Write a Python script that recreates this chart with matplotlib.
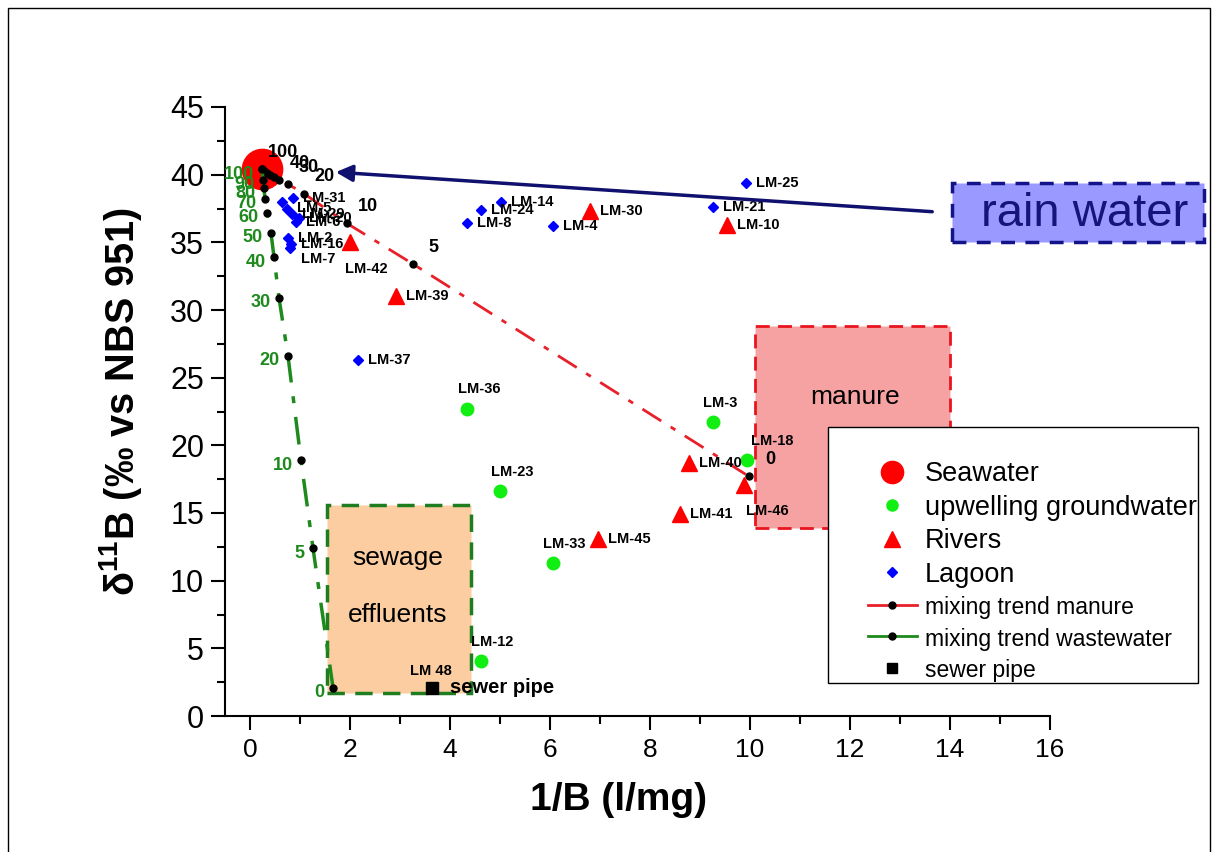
import matplotlib.pyplot as plt
from matplotlib.lines import Line2D
from matplotlib.patches import Rectangle

plt.rcParams['font.family'] = ['Liberation Sans', 'DejaVu Sans']
plt.rcParams['mathtext.fontset'] = 'custom'
plt.rcParams['mathtext.rm'] = 'Liberation Sans'
plt.rcParams['mathtext.bf'] = 'Liberation Sans:bold'
plt.rcParams['mathtext.it'] = 'Liberation Sans:italic'

# seawater end member
sea_x = [0.24]
sea_y = [40.4]

# upwelling groundwater
gw_names = ['LM-36', 'LM-3', 'LM-18', 'LM-23', 'LM-33', 'LM-12']
gw_x = [4.34, 9.26, 9.94, 5.00, 6.06, 4.62]
gw_y = [22.7, 21.7, 18.9, 16.6, 11.3, 4.1]

# rivers
riv_names = ['LM-42', 'LM-39', 'LM-30', 'LM-10', 'LM-40', 'LM-46', 'LM-41', 'LM-45']
riv_x = [2.00, 2.92, 6.80, 9.54, 8.78, 9.88, 8.60, 6.96]
riv_y = [35.0, 31.0, 37.3, 36.3, 18.7, 17.1, 14.9, 13.1]

# lagoon
lag_names = ['LM-25', 'LM-21', 'LM-14', 'LM-24', 'LM-8', 'LM-4', 'LM-37', 'LM-31',
             '', 'LM-5', 'LM-29', 'LM-20', 'LM-6', 'LM-2', 'LM-16', 'LM-7']
lag_x = [9.92, 9.26, 5.02, 4.62, 4.34, 6.06, 2.16, 0.86,
         0.64, 0.74, 0.84, 0.98, 0.92, 0.76, 0.82, 0.80]
lag_y = [39.4, 37.6, 38.0, 37.4, 36.4, 36.2, 26.3, 38.3,
         38.0, 37.5, 37.1, 36.8, 36.5, 35.3, 34.9, 34.6]

# sewer pipe
sew_x = [3.64]
sew_y = [2.07]

# mixing seawater - manure (% seawater)
man_pct = ['100', '', '', '', '', '', '40', '30', '20', '10', '5', '0']
man_x = [0.24, 0.27, 0.30, 0.34, 0.40, 0.48, 0.58, 0.76, 1.08, 1.94, 3.26, 9.98]
man_y = [40.4, 40.3, 40.2, 40.1, 39.95, 39.8, 39.6, 39.3, 38.6, 36.4, 33.4, 17.7]

# mixing seawater - wastewater (% seawater)
ww_pct = ['100', '90', '80', '70', '60', '50', '40', '30', '20', '10', '5', '0']
ww_x = [0.24, 0.26, 0.28, 0.30, 0.34, 0.42, 0.48, 0.58, 0.76, 1.02, 1.26, 1.66]
ww_y = [40.4, 39.6, 39.0, 38.2, 37.2, 35.7, 33.9, 30.9, 26.6, 18.9, 12.4, 2.1]

# label placement (points) for labels not simply to the right of the marker
lab_off = {'LM-42': (12, -19, 'center'), 'LM-36': (9, 14, 'center'),
           'LM-3': (5, 14, 'center'), 'LM-18': (18, 14, 'center'),
           'LM-23': (9, 14, 'center'), 'LM-33': (8, 14, 'center'),
           'LM-12': (8, 13, 'center'), 'LM-46': (17, -19, 'center'),
           'LM-7': (20, -8, 'center')}

fig = plt.figure(figsize=(12.15, 8.52), dpi=100)
ax = fig.add_axes([225 / 1215, 1 - 716 / 852, 825 / 1215, 609 / 852])

# shaded source boxes
ax.add_patch(Rectangle((1.54, 1.7), 2.88, 13.9, fc='#fbcda0', ec='#1e7d1e',
                       ls=(0, (5, 3)), lw=2.5, zorder=1))
ax.add_patch(Rectangle((10.1, 13.9), 3.9, 14.9, fc='#f6a2a2', ec='#e8141e',
                       ls=(0, (5, 3)), lw=2, zorder=1))
ax.text(2.96, 11.7, 'sewage', fontsize=19, ha='center', va='center', zorder=2)
ax.text(2.96, 7.46, 'effluents', fontsize=19, ha='center', va='center', zorder=2)
ax.text(12.1, 23.6, 'manure', fontsize=19, ha='center', va='center', zorder=2)

# seawater
ax.plot(sea_x, sea_y, 'o', color='red', ms=29, zorder=2)

# mixing lines
ax.plot(man_x, man_y, color='#e8202a', ls=(0, (8, 4, 2, 4)), lw=2, marker='o',
        mfc='black', mec='black', ms=5, zorder=3)
ax.plot(ww_x, ww_y, color='#1e8a1e', ls=(0, (8, 4, 2, 4)), lw=2.5, marker='o',
        mfc='black', mec='black', ms=5, zorder=3)
for p, x, y in zip(man_pct, man_x, man_y):
    if p:
        ax.annotate(p, (x, y), xytext=(15, 12), textcoords='offset points',
                    ha='center', va='center', fontsize=13, fontweight='bold', zorder=6)
for p, x, y in zip(ww_pct, ww_x, ww_y):
    ax.annotate(p, (x, y), xytext=(-6, -3.5), textcoords='offset points',
                ha='right', va='center', fontsize=13, fontweight='bold',
                color='#1e8a1e', zorder=6)

# samples
ax.plot(gw_x, gw_y, 'o', color='#11ee11', ms=9, zorder=4)
ax.plot(riv_x, riv_y, '^', color='red', ms=11, zorder=4)
ax.plot(lag_x, lag_y, 'D', color='blue', ms=5.5, zorder=4)
ax.plot(sew_x, sew_y, 's', color='black', ms=8.5, zorder=4)

for names, xs, ys in [(gw_names, gw_x, gw_y), (riv_names, riv_x, riv_y),
                      (lag_names, lag_x, lag_y)]:
    for n, x, y in zip(names, xs, ys):
        if not n:
            continue
        dx, dy, ha = lab_off.get(n, (7, 0, 'left'))
        ax.annotate(n, (x, y), xytext=(dx, dy), textcoords='offset points',
                    ha=ha, va='center', fontsize=10.5, fontweight='bold', zorder=5)
ax.annotate('LM 48', (sew_x[0], sew_y[0]), xytext=(-1, 12), textcoords='offset points',
            ha='center', va='center', fontsize=10.5, fontweight='bold', zorder=5)
ax.annotate('sewer pipe', (sew_x[0], sew_y[0]), xytext=(13, 0), textcoords='offset points',
            ha='left', va='center', fontsize=14.5, fontweight='bold', zorder=5)

# rain water arrow
ax.annotate('', xy=(1.66, 40.2), xytext=(13.7, 37.25),
            arrowprops=dict(arrowstyle='-|>', color='#10106e', lw=2.5, mutation_scale=25),
            annotation_clip=False, zorder=6)

ax.set_xlim(-0.5, 16)
ax.set_ylim(0, 45)
ax.set_xticks(range(0, 17, 2))
ax.set_xticks(range(1, 16, 2), minor=True)
ax.set_yticks(range(0, 46, 5))
ax.set_yticks([2.5 + 5 * i for i in range(9)], minor=True)
ax.spines['top'].set_visible(False)
ax.spines['right'].set_visible(False)
for s in ['left', 'bottom']:
    ax.spines[s].set_linewidth(1.5)
ax.tick_params(which='major', direction='out', length=10, width=1.5)
ax.tick_params(which='minor', direction='out', length=6, width=1.5)
ax.tick_params(axis='y', labelsize=22, pad=5)
ax.tick_params(axis='x', labelsize=19, pad=6)
fig.text(618 / 1215, 1 - 800 / 852, '1/B (l/mg)', fontsize=28, fontweight='bold',
         ha='center', va='center')
fig.text(120 / 1215, 1 - 402 / 852, r'δ$^{\mathbf{11}}$B (‰ vs NBS 951)', rotation=90,
         fontsize=28.5, fontweight='bold', ha='center', va='center')

# rain water box
fig.patches.append(Rectangle((952 / 1215, 1 - 242 / 852), 252 / 1215, 59 / 852,
                             transform=fig.transFigure, fc='#9999ff', ec='#14148a',
                             ls=(0, (4, 3)), lw=2.5, zorder=3))
fig.text(1085 / 1215, 1 - 214 / 852, 'rain water', fontsize=34, color='#14147a',
         ha='center', va='center', zorder=4)

# legend
fig.patches.append(Rectangle((828 / 1215, 1 - 683 / 852), 370 / 1215, 256 / 852,
                             transform=fig.transFigure, fc='white', ec='black',
                             lw=1, zorder=4))
handles = [
    Line2D([], [], ls='none', marker='o', color='red', ms=16),
    Line2D([], [], ls='none', marker='o', color='#11ee11', ms=8),
    Line2D([], [], ls='none', marker='^', color='red', ms=11),
    Line2D([], [], ls='none', marker='D', color='blue', ms=5),
    Line2D([], [], color='#e8202a', lw=2, marker='o', mfc='black', mec='black', ms=5),
    Line2D([], [], color='#1e8a1e', lw=2, marker='o', mfc='black', mec='black', ms=5),
    Line2D([], [], ls='none', marker='s', color='black', ms=7),
]
labels = ['Seawater', 'upwelling groundwater', 'Rivers', 'Lagoon',
          'mixing trend manure', 'mixing trend wastewater', 'sewer pipe']
leg = fig.legend(handles, labels, loc='upper left',
                 bbox_to_anchor=(868 / 1215, 1 - 461 / 852), frameon=False,
                 fontsize=19.5, handlelength=1.8, handletextpad=0.3,
                 labelspacing=0.28, borderpad=0, borderaxespad=0)
leg.set_zorder(5)
for t in leg.get_texts()[4:]:
    t.set_fontsize(16.5)

# outer frame
fig.patches.append(Rectangle((8 / 1215, -0.05), 1202 / 1215, 1.05 - 8 / 852,
                             transform=fig.transFigure, fill=False, ec='black', lw=1))

fig.savefig('out.png', dpi=100)
